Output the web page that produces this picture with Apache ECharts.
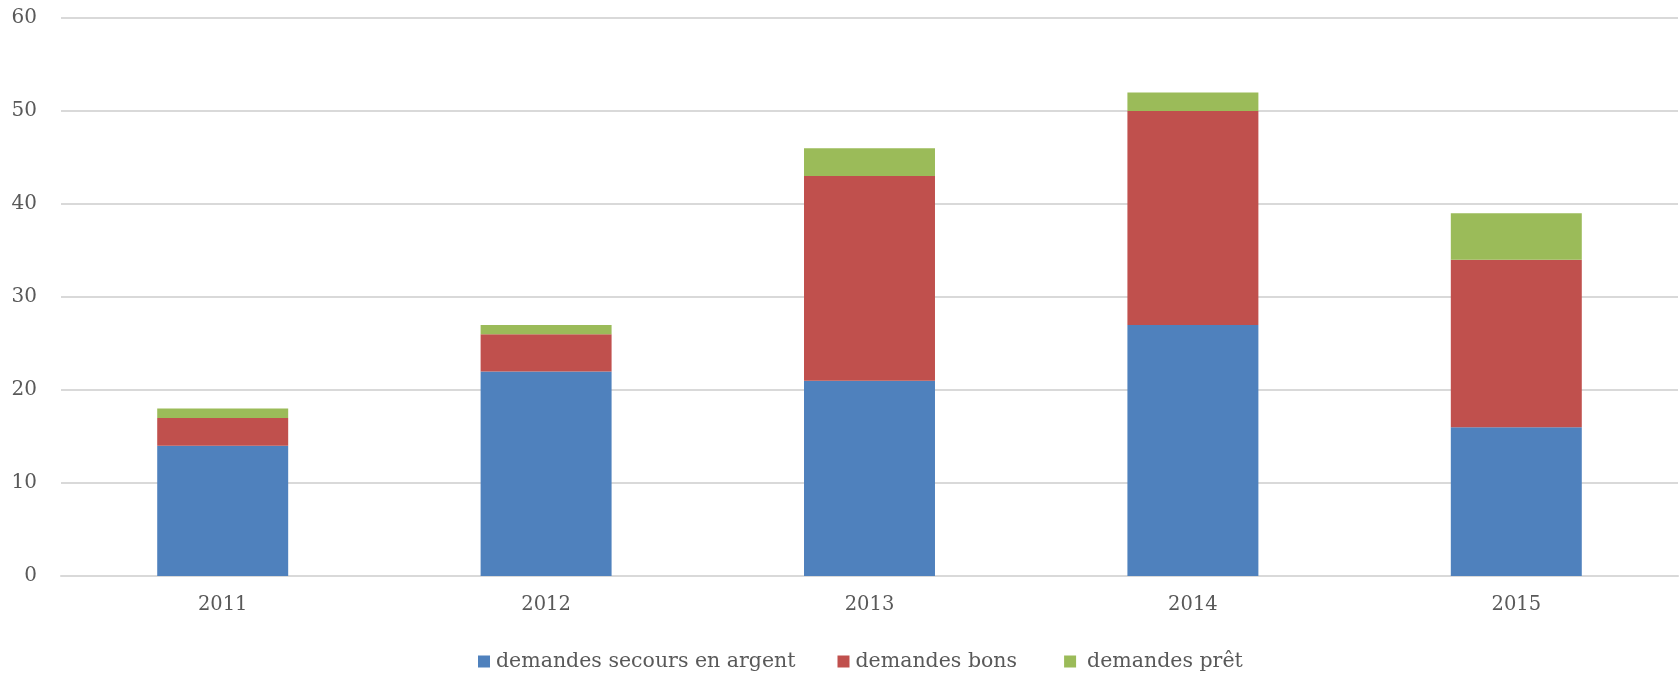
<!DOCTYPE html>
<html>
<head>
<meta charset="utf-8">
<script src="https://cdn.jsdelivr.net/npm/echarts@6/dist/echarts.min.js"></script>
<style>html,body{margin:0;padding:0;background:#fff;}#chart{width:1680px;height:673px;}</style>
</head>
<body>
<div id="chart"></div>
<script>
const categories = ['2011', '2012', '2013', '2014', '2015'];
const secoursArgent = [14, 22, 21, 27, 16];
const bons = [3, 4, 22, 23, 18];
const pret = [1, 1, 3, 2, 5];
const seriesNames = ['demandes secours en argent', 'demandes bons', 'demandes prêt'];
const colors = ['#4f81bd', '#c0504d', '#9bbb59'];

const chart = echarts.init(document.getElementById('chart'));
const fontAxis = 'DejaVu Serif';
const dataSets = [secoursArgent, bons, pret];
const legendPads = [[0,0,0,1], [0,5,0,1], [0,0,0,6]];
chart.setOption({
  animation: false,
  color: colors,
  grid: { left: 61, right: 2, top: 18, bottom: 97, containLabel: false },
  legend: {
    top: 651, left: 478, padding: 0,
    itemWidth: 12, itemHeight: 12, itemGap: 42,
    icon: 'rect',
    textStyle: { fontFamily: 'DejaVu Serif', fontSize: 20.5, lineHeight: 20, color: '#595959', padding: [0,0,0,1] },
    data: seriesNames.map((n, i) => ({ name: n, textStyle: { padding: legendPads[i] } }))
  },
  xAxis: {
    type: 'category', data: categories,
    axisLine: { lineStyle: { color: '#d9d9d9', width: 2 } },
    axisTick: { show: false },
    axisLabel: { fontFamily: fontAxis, fontSize: 19.5, color: '#595959', margin: 19 }
  },
  yAxis: {
    type: 'value', min: 0, max: 60, interval: 10,
    axisLine: { show: false }, axisTick: { show: false },
    splitLine: { lineStyle: { color: '#d9d9d9', width: 2 } },
    axisLabel: { fontFamily: fontAxis, fontSize: 20, color: '#595959', margin: 24 }
  },
  series: dataSets.map((d, i) => ({
    name: seriesNames[i], type: 'bar', stack: 'total', data: d,
    barWidth: '40.5%'
  }))
});
</script>
</body>
</html>
